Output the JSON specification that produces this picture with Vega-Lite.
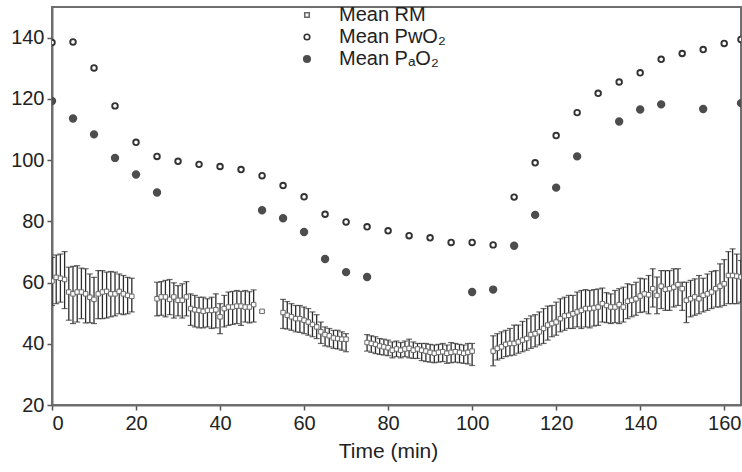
{
  "$schema": "https://vega.github.io/schema/vega-lite/v6.json",
  "autosize": "none",
  "width": 689,
  "height": 398,
  "padding": {"left": 52, "top": 7, "right": 1, "bottom": 67},
  "background": "white",
  "config": {
    "view": {"stroke": "#6e6e6e", "strokeWidth": 2},
    "font": "Liberation Sans",
    "axis": {
      "grid": false,
      "domainColor": "#6e6e6e",
      "domainWidth": 2,
      "tickColor": "#555555",
      "tickWidth": 1.5,
      "tickSize": 5,
      "labelFont": "Liberation Sans",
      "labelFontSize": 20,
      "labelColor": "#222222",
      "labelPadding": 3,
      "titleFont": "Liberation Sans",
      "titleFontSize": 21,
      "titleFontWeight": "normal",
      "titleColor": "#222222"
    },
    "legend": {
      "orient": "none",
      "legendX": 245,
      "legendY": -2,
      "title": null,
      "labelFont": "Liberation Sans",
      "labelFontSize": 20,
      "labelColor": "#222222",
      "rowPadding": 2,
      "labelOffset": 22,
      "symbolStrokeWidth": 1.6
    }
  },
  "datasets": {
    "rm": [
      {"t":0,"v":60.5,"hi":68.2,"lo":52.5},{"t":1,"v":61.7,"hi":69.0,"lo":53.1},{"t":2,"v":61.4,"hi":69.3,"lo":53.6},{"t":3,"v":61.0,"hi":70.1,"lo":51.5},
      {"t":4,"v":56.9,"hi":65.0,"lo":47.7},{"t":5,"v":56.3,"hi":65.3,"lo":46.6},{"t":6,"v":56.9,"hi":65.5,"lo":47.1},{"t":7,"v":56.9,"hi":64.7,"lo":48.2},
      {"t":8,"v":56.3,"hi":64.5,"lo":46.8},{"t":9,"v":55.2,"hi":62.8,"lo":46.9},{"t":10,"v":54.5,"hi":61.7,"lo":46.6},{"t":11,"v":56.3,"hi":63.9,"lo":48.2},
      {"t":12,"v":56.9,"hi":63.9,"lo":48.2},{"t":13,"v":57.1,"hi":63.4,"lo":48.4},{"t":14,"v":56.3,"hi":63.6,"lo":48.8},{"t":15,"v":56.3,"hi":63.4,"lo":49.1},
      {"t":16,"v":57.1,"hi":62.8,"lo":49.8},{"t":17,"v":56.3,"hi":62.3,"lo":49.5},{"t":18,"v":55.8,"hi":61.7,"lo":49.8},{"t":19,"v":55.5,"hi":61.4,"lo":50.4},
      {"t":25,"v":54.7,"hi":60.1,"lo":49.1},{"t":26,"v":55.3,"hi":60.3,"lo":49.3},{"t":27,"v":55.3,"hi":60.7,"lo":48.8},{"t":28,"v":54.5,"hi":61.0,"lo":49.5},
      {"t":29,"v":55.3,"hi":59.9,"lo":48.4},{"t":30,"v":54.2,"hi":59.0,"lo":49.1},{"t":31,"v":54.2,"hi":59.6,"lo":48.4},{"t":32,"v":55.3,"hi":60.3,"lo":49.1},
      {"t":33,"v":51.5,"hi":56.3,"lo":46.0},{"t":34,"v":51.1,"hi":55.8,"lo":45.5},{"t":35,"v":50.9,"hi":55.2,"lo":45.2},{"t":36,"v":50.6,"hi":55.2,"lo":45.2},
      {"t":37,"v":50.9,"hi":54.7,"lo":45.5},{"t":38,"v":50.9,"hi":55.2,"lo":45.0},{"t":39,"v":51.1,"hi":56.3,"lo":45.2},{"t":40,"v":48.8,"hi":53.1,"lo":43.3},
      {"t":41,"v":51.5,"hi":55.8,"lo":45.5},{"t":42,"v":52.0,"hi":56.9,"lo":46.0},{"t":43,"v":52.0,"hi":57.1,"lo":46.3},{"t":44,"v":52.3,"hi":57.4,"lo":46.6},
      {"t":45,"v":52.3,"hi":57.1,"lo":46.0},{"t":46,"v":52.0,"hi":57.4,"lo":47.1},{"t":47,"v":52.0,"hi":57.0,"lo":46.8},{"t":48,"v":52.8,"hi":57.6,"lo":47.1},
      {"t":50,"v":50.6,"hi":51.0,"lo":50.2},
      {"t":55,"v":50.2,"hi":54.5,"lo":45.0},{"t":56,"v":49.3,"hi":53.8,"lo":44.8},{"t":57,"v":48.8,"hi":53.1,"lo":44.4},{"t":58,"v":48.2,"hi":52.5,"lo":43.9},
      {"t":59,"v":48.2,"hi":52.5,"lo":43.7},{"t":60,"v":47.7,"hi":52.0,"lo":43.3},{"t":61,"v":47.1,"hi":51.5,"lo":42.8},{"t":62,"v":46.3,"hi":50.4,"lo":42.3},
      {"t":63,"v":45.5,"hi":49.5,"lo":41.7},{"t":64,"v":43.9,"hi":47.1,"lo":40.1},{"t":65,"v":43.0,"hi":45.5,"lo":39.3},{"t":66,"v":42.6,"hi":45.0,"lo":39.0},
      {"t":67,"v":41.9,"hi":44.4,"lo":38.5},{"t":68,"v":41.7,"hi":44.4,"lo":38.3},{"t":69,"v":41.5,"hi":43.9,"lo":37.9},{"t":70,"v":41.5,"hi":43.3,"lo":37.4},
      {"t":75,"v":40.4,"hi":43.0,"lo":37.6},{"t":76,"v":40.1,"hi":42.6,"lo":37.2},{"t":77,"v":39.8,"hi":42.3,"lo":36.8},{"t":78,"v":39.3,"hi":41.7,"lo":36.5},
      {"t":79,"v":39.0,"hi":41.5,"lo":36.3},{"t":80,"v":38.7,"hi":41.2,"lo":36.1},{"t":81,"v":37.9,"hi":40.6,"lo":35.4},{"t":82,"v":38.3,"hi":40.9,"lo":35.8},
      {"t":83,"v":37.9,"hi":40.4,"lo":35.4},{"t":84,"v":38.3,"hi":40.9,"lo":35.8},{"t":85,"v":38.5,"hi":41.5,"lo":35.4},{"t":86,"v":37.9,"hi":40.6,"lo":35.2},
      {"t":87,"v":38.3,"hi":40.1,"lo":35.2},{"t":88,"v":37.9,"hi":40.1,"lo":34.5},{"t":89,"v":37.6,"hi":40.1,"lo":34.2},{"t":90,"v":37.2,"hi":39.8,"lo":34.0},
      {"t":91,"v":36.9,"hi":39.6,"lo":33.8},{"t":92,"v":37.2,"hi":39.8,"lo":34.0},{"t":93,"v":37.4,"hi":40.1,"lo":34.2},{"t":94,"v":36.9,"hi":39.6,"lo":33.6},
      {"t":95,"v":37.2,"hi":40.4,"lo":33.8},{"t":96,"v":37.4,"hi":40.1,"lo":34.0},{"t":97,"v":37.2,"hi":39.8,"lo":33.8},{"t":98,"v":36.9,"hi":39.6,"lo":33.6},
      {"t":99,"v":37.2,"hi":40.1,"lo":33.4},{"t":100,"v":37.6,"hi":40.1,"lo":32.9},
      {"t":105,"v":37.6,"hi":42.6,"lo":32.8},{"t":106,"v":38.5,"hi":43.3,"lo":34.7},{"t":107,"v":39.0,"hi":43.9,"lo":35.2},{"t":108,"v":39.8,"hi":44.4,"lo":35.8},
      {"t":109,"v":40.1,"hi":45.0,"lo":36.1},{"t":110,"v":40.1,"hi":46.1,"lo":36.3},{"t":111,"v":40.6,"hi":46.1,"lo":36.9},{"t":112,"v":41.2,"hi":47.3,"lo":37.4},
      {"t":113,"v":41.7,"hi":48.2,"lo":37.9},{"t":114,"v":43.0,"hi":49.1,"lo":38.5},{"t":115,"v":43.3,"hi":49.5,"lo":39.0},{"t":116,"v":43.9,"hi":50.4,"lo":39.6},
      {"t":117,"v":45.0,"hi":51.5,"lo":40.1},{"t":118,"v":46.1,"hi":52.3,"lo":41.2},{"t":119,"v":46.6,"hi":52.5,"lo":42.3},{"t":120,"v":47.1,"hi":53.6,"lo":42.8},
      {"t":121,"v":48.2,"hi":54.7,"lo":43.9},{"t":122,"v":49.1,"hi":55.2,"lo":44.4},{"t":123,"v":49.3,"hi":55.8,"lo":45.0},{"t":124,"v":49.8,"hi":55.8,"lo":45.0},
      {"t":125,"v":50.4,"hi":56.9,"lo":45.5},{"t":126,"v":50.9,"hi":57.4,"lo":45.0},{"t":127,"v":51.5,"hi":57.7,"lo":45.5},{"t":128,"v":51.5,"hi":57.4,"lo":45.2},
      {"t":129,"v":51.7,"hi":57.7,"lo":45.8},{"t":130,"v":52.0,"hi":57.9,"lo":46.0},
      {"t":131,"v":53.1,"hi":58.2,"lo":47.1},{"t":132,"v":52.5,"hi":56.7,"lo":46.9},{"t":133,"v":52.0,"hi":56.3,"lo":46.6},{"t":134,"v":52.0,"hi":57.4,"lo":46.9},
      {"t":135,"v":52.8,"hi":58.0,"lo":46.6},{"t":136,"v":52.0,"hi":58.5,"lo":47.1},{"t":137,"v":53.9,"hi":59.6,"lo":48.2},{"t":138,"v":54.2,"hi":59.3,"lo":48.8},
      {"t":139,"v":54.7,"hi":60.1,"lo":49.3},{"t":140,"v":55.6,"hi":61.4,"lo":50.2},{"t":141,"v":56.3,"hi":61.2,"lo":50.4},{"t":142,"v":56.0,"hi":62.3,"lo":49.8},
      {"t":143,"v":58.0,"hi":64.5,"lo":52.0},{"t":144,"v":55.8,"hi":61.8,"lo":49.8},{"t":145,"v":58.8,"hi":63.9,"lo":51.5},{"t":146,"v":57.8,"hi":63.9,"lo":50.9},
      {"t":147,"v":58.0,"hi":63.9,"lo":50.9},{"t":148,"v":58.5,"hi":64.5,"lo":52.0},{"t":149,"v":59.3,"hi":64.5,"lo":52.5},{"t":150,"v":58.0,"hi":60.1,"lo":50.9},
      {"t":151,"v":54.2,"hi":60.1,"lo":46.9},{"t":152,"v":54.7,"hi":60.7,"lo":48.8},{"t":153,"v":55.3,"hi":61.2,"lo":49.3},{"t":154,"v":54.7,"hi":62.3,"lo":49.8},
      {"t":155,"v":55.8,"hi":61.4,"lo":50.4},{"t":156,"v":56.3,"hi":62.8,"lo":50.9},{"t":157,"v":56.9,"hi":63.6,"lo":51.5},{"t":158,"v":58.0,"hi":63.9,"lo":52.0},
      {"t":159,"v":58.8,"hi":66.1,"lo":52.0},{"t":160,"v":59.6,"hi":67.5,"lo":52.5},{"t":161,"v":62.3,"hi":70.1,"lo":53.1},{"t":162,"v":62.3,"hi":71.0,"lo":53.1},
      {"t":163,"v":62.1,"hi":69.3,"lo":53.1},{"t":164,"v":61.8,"hi":67.2,"lo":53.6}
    ],
    "o2": [
      {"t":0,"v":138.4,"series":"Mean PwO₂"},{"t":5,"v":138.6,"series":"Mean PwO₂"},{"t":10,"v":130.1,"series":"Mean PwO₂"},{"t":15,"v":117.7,"series":"Mean PwO₂"},
      {"t":20,"v":105.8,"series":"Mean PwO₂"},{"t":25,"v":101.2,"series":"Mean PwO₂"},{"t":30,"v":99.6,"series":"Mean PwO₂"},{"t":35,"v":98.6,"series":"Mean PwO₂"},
      {"t":40,"v":97.9,"series":"Mean PwO₂"},{"t":45,"v":96.9,"series":"Mean PwO₂"},{"t":50,"v":94.9,"series":"Mean PwO₂"},{"t":55,"v":91.7,"series":"Mean PwO₂"},
      {"t":60,"v":88.0,"series":"Mean PwO₂"},{"t":65,"v":82.3,"series":"Mean PwO₂"},{"t":70,"v":79.8,"series":"Mean PwO₂"},{"t":75,"v":78.2,"series":"Mean PwO₂"},
      {"t":80,"v":76.9,"series":"Mean PwO₂"},{"t":85,"v":75.3,"series":"Mean PwO₂"},{"t":90,"v":74.6,"series":"Mean PwO₂"},{"t":95,"v":73.1,"series":"Mean PwO₂"},
      {"t":100,"v":73.1,"series":"Mean PwO₂"},{"t":105,"v":72.3,"series":"Mean PwO₂"},{"t":110,"v":87.9,"series":"Mean PwO₂"},{"t":115,"v":99.1,"series":"Mean PwO₂"},
      {"t":120,"v":108.0,"series":"Mean PwO₂"},{"t":125,"v":115.5,"series":"Mean PwO₂"},{"t":130,"v":121.8,"series":"Mean PwO₂"},{"t":135,"v":125.5,"series":"Mean PwO₂"},
      {"t":140,"v":128.5,"series":"Mean PwO₂"},{"t":145,"v":132.9,"series":"Mean PwO₂"},{"t":150,"v":134.8,"series":"Mean PwO₂"},{"t":155,"v":136.1,"series":"Mean PwO₂"},
      {"t":160,"v":138.1,"series":"Mean PwO₂"},{"t":164,"v":139.4,"series":"Mean PwO₂"},
      {"t":0,"v":119.3,"series":"Mean PₐO₂"},{"t":5,"v":113.6,"series":"Mean PₐO₂"},{"t":10,"v":108.4,"series":"Mean PₐO₂"},{"t":15,"v":100.7,"series":"Mean PₐO₂"},
      {"t":20,"v":95.3,"series":"Mean PₐO₂"},{"t":25,"v":89.4,"series":"Mean PₐO₂"},{"t":50,"v":83.6,"series":"Mean PₐO₂"},{"t":55,"v":81.0,"series":"Mean PₐO₂"},
      {"t":60,"v":76.5,"series":"Mean PₐO₂"},{"t":65,"v":67.7,"series":"Mean PₐO₂"},{"t":70,"v":63.4,"series":"Mean PₐO₂"},{"t":75,"v":61.8,"series":"Mean PₐO₂"},
      {"t":100,"v":56.9,"series":"Mean PₐO₂"},{"t":105,"v":57.7,"series":"Mean PₐO₂"},{"t":110,"v":72.0,"series":"Mean PₐO₂"},{"t":115,"v":82.1,"series":"Mean PₐO₂"},
      {"t":120,"v":91.0,"series":"Mean PₐO₂"},{"t":125,"v":101.2,"series":"Mean PₐO₂"},{"t":135,"v":112.6,"series":"Mean PₐO₂"},{"t":140,"v":116.5,"series":"Mean PₐO₂"},
      {"t":145,"v":118.2,"series":"Mean PₐO₂"},{"t":155,"v":116.7,"series":"Mean PₐO₂"},{"t":164,"v":118.6,"series":"Mean PₐO₂"}
    ]
  },
  "encoding": {
    "x": {"field": "t", "type": "quantitative",
      "scale": {"domain": [0, 164], "nice": false, "zero": false},
      "axis": {"values": [0,20,40,60,80,100,120,140,160], "title": "Time (min)", "titlePadding": 7, "titleX": 336}},
    "y": {"field": "v", "type": "quantitative",
      "scale": {"domain": [20, 150], "nice": false, "zero": false},
      "axis": {"values": [20,40,60,80,100,120,140], "title": null}}
  },
  "layer": [
    {
      "data": {"name": "rm"},
      "mark": {"type": "rule", "color": "#2b2b2b", "strokeWidth": 1.3, "clip": true},
      "encoding": {"y": {"field": "lo", "type": "quantitative"}, "y2": {"field": "hi"}}
    },
    {
      "data": {"name": "rm"},
      "mark": {"type": "tick", "orient": "horizontal", "color": "#2b2b2b", "thickness": 1.2, "size": 6, "clip": true},
      "encoding": {"y": {"field": "hi", "type": "quantitative"}}
    },
    {
      "data": {"name": "rm"},
      "mark": {"type": "tick", "orient": "horizontal", "color": "#2b2b2b", "thickness": 1.2, "size": 6, "clip": true},
      "encoding": {"y": {"field": "lo", "type": "quantitative"}}
    },
    {
      "data": {"name": "rm"},
      "transform": [{"calculate": "'Mean RM'", "as": "series"}],
      "mark": {"type": "point", "filled": false, "strokeWidth": 1, "opacity": 1, "clip": true},
      "encoding": {
        "shape": {"field": "series", "type": "nominal"},
        "fill": {"field": "series", "type": "nominal"},
        "stroke": {"field": "series", "type": "nominal"},
        "size": {"field": "series", "type": "nominal"}
      }
    },
    {
      "data": {"name": "o2"},
      "mark": {"type": "point", "filled": false, "strokeWidth": 1.9, "opacity": 1, "clip": true},
      "encoding": {
        "shape": {"field": "series", "type": "nominal",
          "scale": {"domain": ["Mean RM", "Mean PwO₂", "Mean PₐO₂"], "range": ["square", "circle", "circle"]}},
        "fill": {"field": "series", "type": "nominal",
          "scale": {"domain": ["Mean RM", "Mean PwO₂", "Mean PₐO₂"], "range": ["#ffffff", "#ffffff", "#4d4d4d"]}},
        "stroke": {"field": "series", "type": "nominal",
          "scale": {"domain": ["Mean RM", "Mean PwO₂", "Mean PₐO₂"], "range": ["#6a6a6a", "#333333", "#4d4d4d"]}},
        "size": {"field": "series", "type": "nominal",
          "scale": {"domain": ["Mean RM", "Mean PwO₂", "Mean PₐO₂"], "range": [20, 42, 75]}}
      }
    }
  ]
}
